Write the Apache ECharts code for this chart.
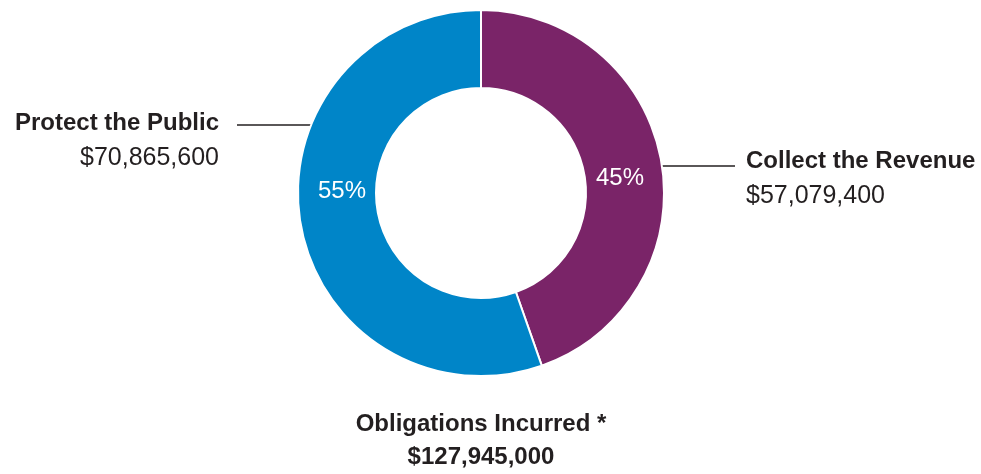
<!DOCTYPE html>
<html>
<head>
<meta charset="utf-8">
<script src="https://cdn.jsdelivr.net/npm/echarts@6/dist/echarts.min.js"></script>
<style>
  html, body { margin: 0; padding: 0; background: #fff; }
  #chart { width: 981px; height: 474px; }
</style>
</head>
<body>
<div id="chart"></div>
<script>
// data
const categories = ['Collect the Revenue', 'Protect the Public']
const amounts = [57079400, 70865600]
const sliceColors = ['#7a2468', '#0085c8']
const totalLabel = 'Obligations Incurred *'

const fmtMoney = v => '$' + v.toLocaleString('en-US')
const total = amounts.reduce((a, b) => a + b, 0)

// geometry of the donut
const cx = 481
const cy = 193
const rIn = 105
const rOut = 183

// where the outside labels sit (left/right side, text box, leader line)
const outerLabels = [
  { side: 1, x: 746, y: 144, lineY: 166, lineEnd: 735 },
  { side: -1, x: 219, y: 106, lineY: 125, lineEnd: 237 }
]
// percent labels inside the ring
const innerLabels = [
  { x: 620, y: 178 },
  { x: 342, y: 191 }
]

const pieData = categories.map((name, i) => ({
  name: name,
  value: amounts[i],
  itemStyle: { color: sliceColors[i] }
}))

const chart = echarts.init(document.getElementById('chart'))

const option = {
  animation: false,
  backgroundColor: '#fff',
  textStyle: { fontFamily: 'Liberation Sans, Arial, sans-serif' },
  series: [
    {
      type: 'pie',
      center: [cx, cy],
      radius: [rIn, rOut],
      startAngle: 90,
      avoidLabelOverlap: false,
      silent: true,
      itemStyle: { borderColor: '#fff', borderWidth: 2 },
      label: {
        show: true,
        position: 'outside',
        formatter: p => '{n|' + p.name + '}\n{v|' + fmtMoney(p.value) + '}',
        rich: {
          n: { fontSize: 24, fontWeight: 'bold', color: '#231f20', lineHeight: 34, fontFamily: 'Liberation Sans' },
          v: { fontSize: 25, color: '#231f20', lineHeight: 37, fontFamily: 'Liberation Sans' }
        }
      },
      labelLine: {
        show: true,
        length: 0,
        length2: 60,
        lineStyle: { color: '#231f20', width: 1.5 }
      },
      labelLayout: function (params) {
        const o = outerLabels[params.dataIndex]
        const dy = o.lineY - cy
        const edgeX = cx + o.side * Math.sqrt(rOut * rOut - dy * dy)
        return {
          x: o.x,
          y: o.y,
          align: o.side > 0 ? 'left' : 'right',
          verticalAlign: 'top',
          labelLinePoints: [[edgeX, o.lineY], [edgeX + o.side, o.lineY], [o.lineEnd, o.lineY]]
        }
      },
      data: pieData
    },
    {
      // same ring, transparent, only for the percent labels
      type: 'pie',
      center: [cx, cy],
      radius: [rIn, rOut],
      startAngle: 90,
      silent: true,
      itemStyle: { color: 'rgba(0,0,0,0)' },
      label: {
        show: true,
        position: 'inside',
        formatter: p => Math.round(p.percent) + '%',
        color: '#fff',
        fontSize: 24,
        fontFamily: 'Liberation Sans'
      },
      labelLine: { show: false },
      labelLayout: function (params) {
        const o = innerLabels[params.dataIndex]
        return { x: o.x, y: o.y, align: 'center', verticalAlign: 'middle' }
      },
      data: categories.map((name, i) => ({ name: name, value: amounts[i] }))
    }
  ],
  graphic: [
    {
      type: 'text',
      x: cx,
      y: 408,
      style: {
        text: totalLabel + '\n' + fmtMoney(total),
        textAlign: 'center',
        textVerticalAlign: 'top',
        fill: '#231f20',
        font: 'bold 24px "Liberation Sans"',
        lineHeight: 33
      }
    }
  ]
}

chart.setOption(option)
</script>
</body>
</html>
